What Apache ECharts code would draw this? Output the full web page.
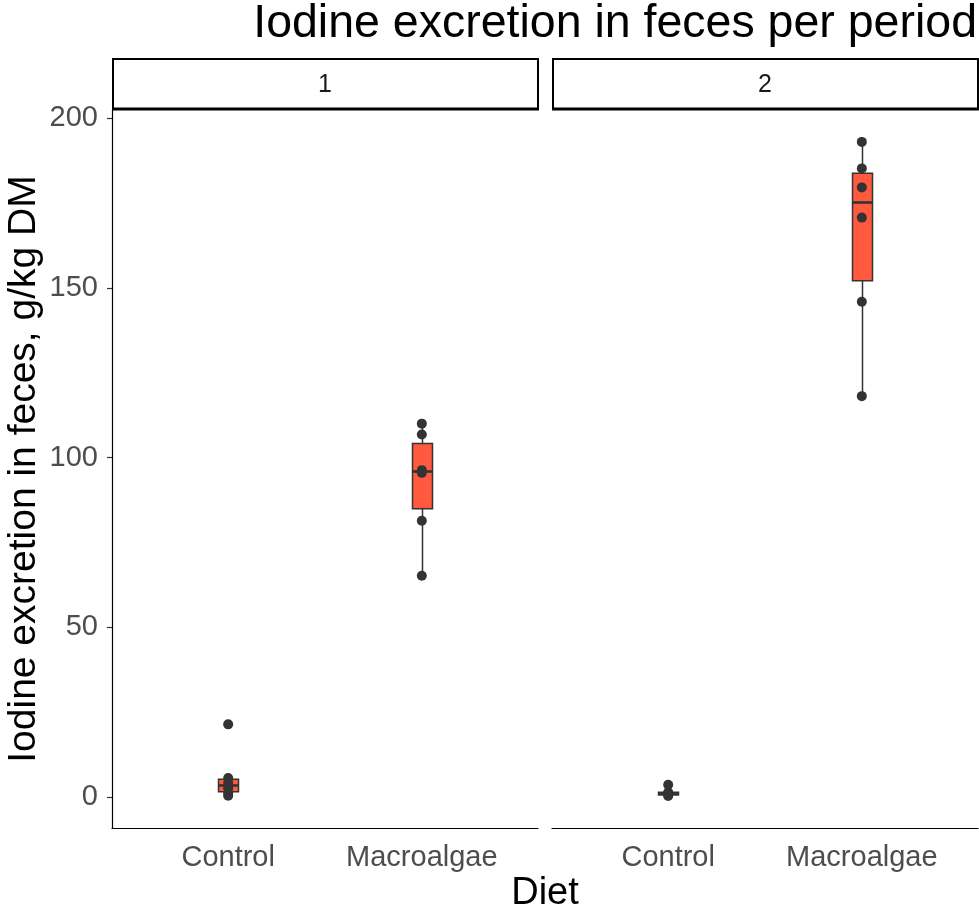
<!DOCTYPE html>
<html>
<head>
<meta charset="utf-8">
<title>Iodine excretion in feces per period</title>
<script src="https://cdn.jsdelivr.net/npm/echarts@6/dist/echarts.min.js"></script>
<style>
  html, body { margin: 0; padding: 0; background: #fff; }
  #main { width: 979px; height: 910px; }
</style>
</head>
<body>
<div id="main"></div>
<script>
// data
const categories = ['Control', 'Macroalgae'];
const periods = ['1', '2'];
const p1Control = [21.4, 5.6, 4.2, 2.6, 1.2, 0.4];
const p1Macroalgae = [110.0, 106.8, 96.3, 95.5, 81.4, 65.2];
const p2Control = [3.6, 1.4, 1.0, 0.6, 0.3];
const p2Macroalgae = [193.0, 185.2, 179.6, 170.7, 145.9, 118.1];
const yTicks = [0, 50, 100, 150, 200];

const panelData = [
  [p1Control, p1Macroalgae],
  [p2Control, p2Macroalgae]
];

const FONT = 'Liberation Sans, Arial, sans-serif';
const BOX_FILL = '#ff5a3d';
const DARK = '#333333';

// quantile like R type 7
function quantile(sorted, p) {
  const h = (sorted.length - 1) * p;
  const lo = Math.floor(h);
  const hi = Math.min(lo + 1, sorted.length - 1);
  return sorted[lo] + (h - lo) * (sorted[hi] - sorted[lo]);
}

function boxStats(values) {
  const s = values.slice().sort((a, b) => a - b);
  const q1 = quantile(s, 0.25);
  const med = quantile(s, 0.5);
  const q3 = quantile(s, 0.75);
  const iqr = q3 - q1;
  const inside = s.filter(v => v >= q1 - 1.5 * iqr && v <= q3 + 1.5 * iqr);
  return [inside[0], q1, med, q3, inside[inside.length - 1]];
}

function renderBox(params, api) {
  const x = api.value(0);
  const lo = api.coord([x, api.value(1)]);
  const q1 = api.coord([x, api.value(2)]);
  const med = api.coord([x, api.value(3)]);
  const q3 = api.coord([x, api.value(4)]);
  const hi = api.coord([x, api.value(5)]);
  const hw = 10;
  const cx = Math.round(lo[0]) + 0.5;
  const lineStyle = { stroke: DARK, lineWidth: 1.5 };
  return {
    type: 'group',
    children: [
      { type: 'line', shape: { x1: cx, y1: q3[1], x2: cx, y2: hi[1] }, style: lineStyle },
      { type: 'line', shape: { x1: cx, y1: q1[1], x2: cx, y2: lo[1] }, style: lineStyle },
      {
        type: 'rect',
        shape: { x: cx - hw, y: q3[1], width: hw * 2, height: q1[1] - q3[1] },
        style: { fill: BOX_FILL, stroke: DARK, lineWidth: 1.5 }
      },
      { type: 'line', shape: { x1: cx - hw, y1: med[1], x2: cx + hw, y2: med[1] }, style: { stroke: DARK, lineWidth: 2.6 } }
    ]
  };
}

const chart = echarts.init(document.getElementById('main'), null, { renderer: 'canvas' });

const gridLeft = [112, 552];
const grids = [], xAxes = [], yAxes = [], series = [], graphics = [];

periods.forEach((p, i) => {
  grids.push({ left: gridLeft[i], top: 110, width: 426, height: 718 });
  xAxes.push({
    type: 'value', gridIndex: i, min: 0.4, max: 2.6,
    splitLine: { show: false },
    axisLine: { show: true, onZero: false, lineStyle: { color: '#000', width: 1.2 } },
    axisTick: { show: false },
    axisLabel: {
      customValues: [1, 2],
      formatter: v => categories[Math.round(v) - 1] || '',
      color: '#4d4d4d', fontSize: 29, fontFamily: FONT, margin: 15
    }
  });
  yAxes.push({
    type: 'value', gridIndex: i, min: -9.13, max: 202.4,
    splitLine: { show: false },
    axisLine: { show: i === 0, onZero: false, lineStyle: { color: '#000', width: 1.2 } },
    axisTick: { show: i === 0, length: 5, customValues: yTicks, lineStyle: { color: DARK, width: 1.2 } },
    axisLabel: {
      show: i === 0, customValues: yTicks,
      color: '#4d4d4d', fontSize: 29, fontFamily: FONT, margin: 14
    },
    name: i === 0 ? 'Iodine excretion in feces, g/kg DM' : '',
    nameLocation: 'middle', nameGap: 68,
    nameTextStyle: { color: '#000', fontSize: 39, fontFamily: FONT }
  });

  const groups = panelData[i];
  series.push({
    type: 'custom', xAxisIndex: i, yAxisIndex: i,
    renderItem: renderBox, z: 2,
    data: groups.map((vals, c) => [c + 1].concat(boxStats(vals)))
  });
  series.push({
    type: 'scatter', xAxisIndex: i, yAxisIndex: i, z: 3,
    symbolSize: 10,
    itemStyle: { color: DARK, opacity: 1 },
    data: groups.flatMap((vals, c) => vals.map(v => [c + 1, v]))
  });

  // facet strip
  graphics.push({
    type: 'rect', silent: true,
    shape: { x: gridLeft[i] + 1, y: 59, width: 425, height: 50 },
    style: { fill: '#fff', stroke: '#000', lineWidth: 2 }
  });
  graphics.push({
    type: 'line', silent: true,
    shape: { x1: gridLeft[i], y1: 109, x2: gridLeft[i] + 427, y2: 109 },
    style: { stroke: '#000', lineWidth: 3 }
  });
  graphics.push({
    type: 'text', silent: true,
    x: gridLeft[i] + 213, y: 85,
    style: { text: p, fill: '#1a1a1a', font: '25px ' + FONT, textAlign: 'center', textVerticalAlign: 'middle' }
  });
});

graphics.push({
  type: 'text', silent: true, x: 977, y: 24,
  style: { text: 'Iodine excretion in feces per period', fill: '#000', font: '46.5px ' + FONT, textAlign: 'right', textVerticalAlign: 'middle' }
});
graphics.push({
  type: 'text', silent: true, x: 545, y: 894,
  style: { text: 'Diet', fill: '#000', font: '38px ' + FONT, textAlign: 'center', textVerticalAlign: 'middle' }
});

chart.setOption({
  animation: false,
  backgroundColor: '#fff',
  grid: grids,
  xAxis: xAxes,
  yAxis: yAxes,
  series: series,
  graphic: graphics
});
</script>
</body>
</html>
